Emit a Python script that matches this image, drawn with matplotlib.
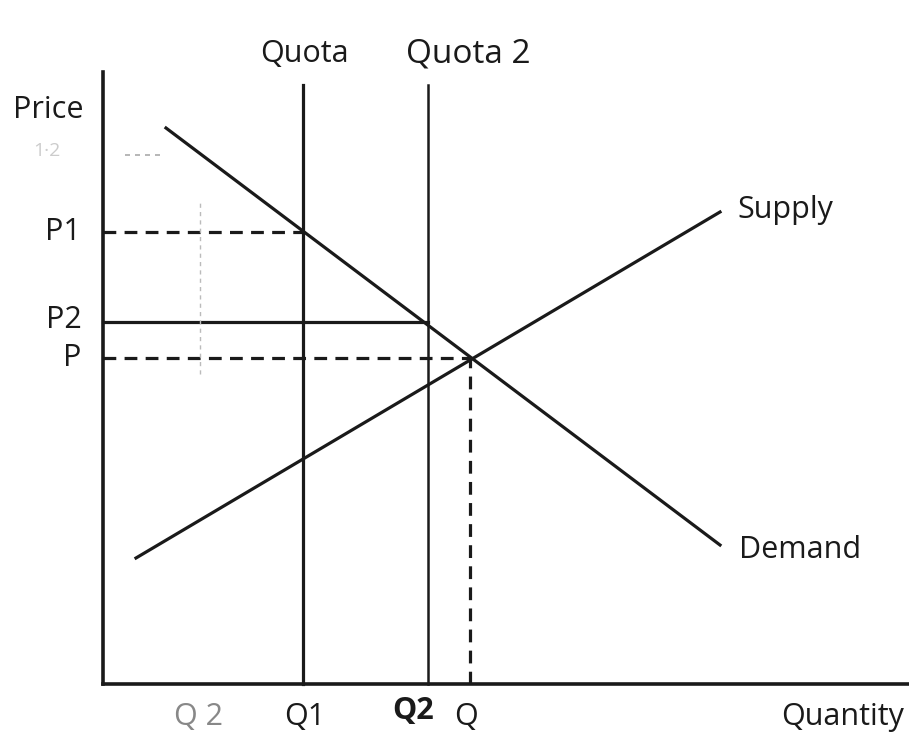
import matplotlib.pyplot as plt

# coordinates: quantity to the right, price upward, origin at the axes corner
demand_q = [63, 617]
demand_p = [556, 139]
supply_q = [33, 617]
supply_p = [126, 472]

q1, q2, q_eq = 200, 325, 367
p1, p2, p_eq = 452, 362, 326
quota_top = 599
axis_top = 612
axis_right = 806

ink = '#1a1a1a'
lw = 2.3
font = 'Open Sans'

fig = plt.figure(figsize=(9.09, 7.35), dpi=100)
ax = fig.add_axes([0, 0, 1, 1])
ax.set_xlim(-103, 806)
ax.set_ylim(-51, 684)
ax.axis('off')

# axes
ax.plot([0, 0], [0, axis_top], color=ink, lw=2.6)
ax.plot([0, axis_right], [0, 0], color=ink, lw=2.6)

# supply and demand
ax.plot(demand_q, demand_p, color=ink, lw=lw)
ax.plot(supply_q, supply_p, color=ink, lw=lw)

# quota lines
ax.plot([q1, q1], [0, quota_top], color=ink, lw=lw)
ax.plot([q2, q2], [0, quota_top], color=ink, lw=1.8)

# price levels
dash = (0, (4, 2.6))
ax.plot([0, q1], [p1, p1], color=ink, lw=lw, linestyle=dash)
ax.plot([0, q2], [p2, p2], color=ink, lw=lw)
ax.plot([0, q_eq], [p_eq, p_eq], color=ink, lw=lw, linestyle=dash)
ax.plot([q_eq, q_eq], [0, p_eq], color=ink, lw=lw, linestyle=dash)

# faint erased marks
ax.plot([97, 97], [310, 484], color='#bbbbbb', lw=1, linestyle=(0, (3, 3)))
ax.plot([22, 57], [529, 529], color='#aaaaaa', lw=1.2, linestyle=(0, (3, 3)))

fs = 22
ax.text(-55, 574, 'Price', fontsize=fs, family=font, color=ink, ha='center', va='center')
ax.text(-42, 533, '1·2', fontsize=14, family=font, color='#cccccc', ha='right', va='center')
ax.text(-22, p1, 'P1', fontsize=fs, family=font, color=ink, ha='right', va='center')
ax.text(-21, p2 + 2, 'P2', fontsize=fs, family=font, color=ink, ha='right', va='center')
ax.text(-22, p_eq, 'P', fontsize=fs, family=font, color=ink, ha='right', va='center')

ax.text(q1 + 1, 630, 'Quota', fontsize=fs, family=font, color=ink, ha='center', va='center')
ax.text(q2 + 40, 630, 'Quota 2', fontsize=24, family=font, color=ink, ha='center', va='center')

ax.text(634, 474, 'Supply', fontsize=fs, family=font, color=ink, ha='left', va='center')
ax.text(636, 134, 'Demand', fontsize=fs, family=font, color=ink, ha='left', va='center')

ax.text(95, -33, 'Q 2', fontsize=fs, family=font, color='#888888', ha='center', va='center')
ax.text(q1 + 2, -33, 'Q1', fontsize=fs, family=font, color=ink, ha='center', va='center')
ax.text(q2 - 15, -27, 'Q2', fontsize=fs, family=font, color=ink, ha='center', va='center',
        fontweight='bold')
ax.text(q_eq - 4, -33, 'Q', fontsize=fs, family=font, color=ink, ha='center', va='center')
ax.text(801, -33, 'Quantity', fontsize=fs, family=font, color=ink, ha='right', va='center')

fig.savefig('out.png', dpi=100)
